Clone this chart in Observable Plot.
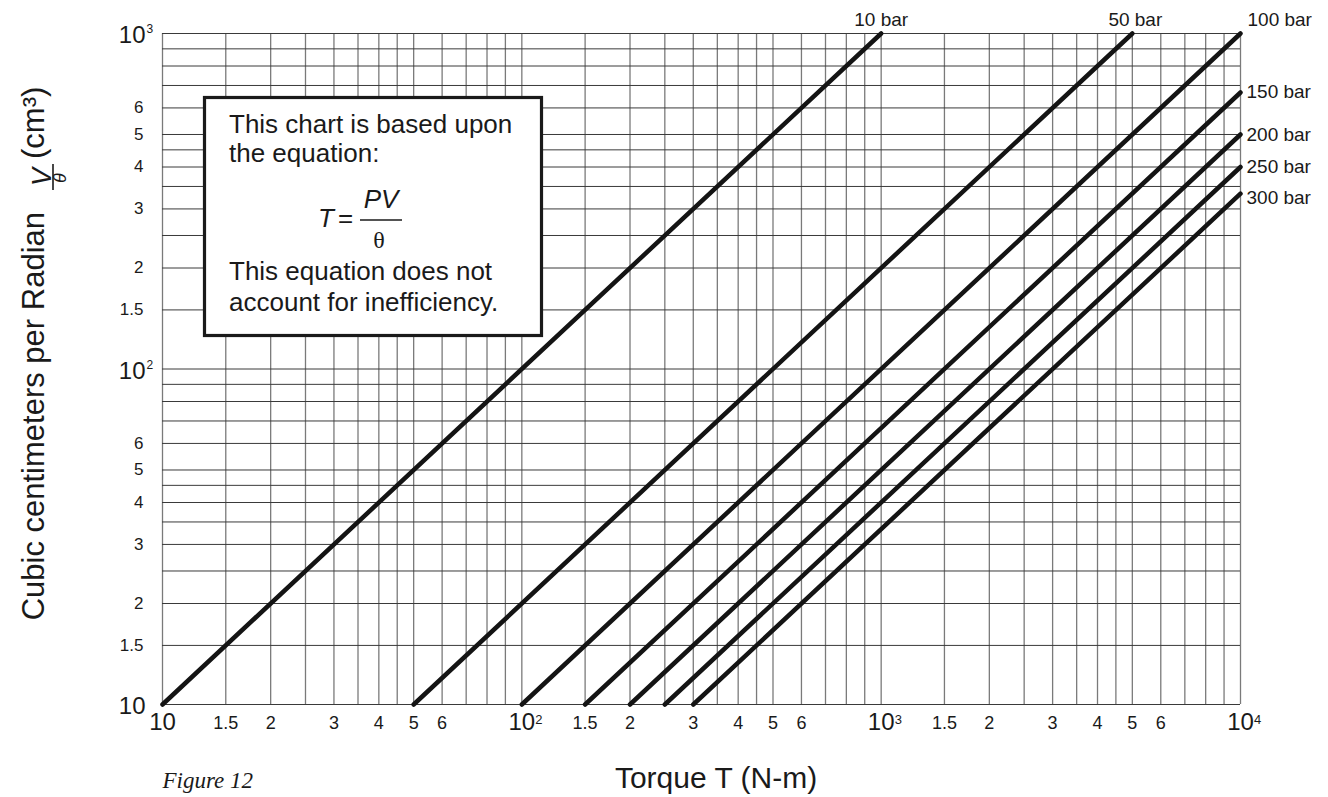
<!DOCTYPE html>
<html>
<head>
<meta charset="utf-8">
<script src="https://cdn.jsdelivr.net/npm/d3@7"></script>
<script src="https://cdn.jsdelivr.net/npm/@observablehq/plot@0.6"></script>
<style>
  html, body { margin: 0; padding: 0; background: #fff; }
</style>
</head>
<body>
<div id="chart"></div>
<script>
// ---------- data ----------
const pressureLabels = ["10 bar", "50 bar", "100 bar", "150 bar", "200 bar", "250 bar", "300 bar"];
const torqueStart = [10, 50, 100, 150, 200, 250, 300];
const volumeStart = [10, 10, 10, 10, 10, 10, 10];
const torqueEnd = [1000, 5000, 10000, 10000, 10000, 10000, 10000];
const volumeEnd = [1000, 1000, 1000, 667, 500, 400, 333];

// grid lines
const gridMantissas = [1, 1.5, 2, 2.5, 3, 3.5, 4, 4.5, 5, 6, 7, 8, 9];
const xDecades = [10, 100, 1000];
const yDecades = [10, 100];
const xGrid = xDecades.flatMap(d => gridMantissas.map(m => m * d)).concat([10000]);
const yGrid = yDecades.flatMap(d => gridMantissas.map(m => m * d)).concat([1000]);

// tick labels
const xTickValues = [15, 20, 30, 40, 50, 60, 150, 200, 300, 400, 500, 600, 1500, 2000, 3000, 4000, 5000, 6000];
const xTickLabels = ["1.5", "2", "3", "4", "5", "6", "1.5", "2", "3", "4", "5", "6", "1.5", "2", "3", "4", "5", "6"];
const xDecadeValues = [10, 100, 1000, 10000];
const xDecadeExponents = ["", "2", "3", "4"];
const yTickValues = [15, 20, 30, 40, 50, 60, 150, 200, 300, 400, 500, 600];
const yTickLabels = ["1.5", "2", "3", "4", "5", "6", "1.5", "2", "3", "4", "5", "6"];
const yDecadeValues = [10, 100, 1000];
const yDecadeExponents = ["", "2", "3"];

// ---------- styles ----------
const FONT = "'Liberation Sans', Arial, Helvetica, sans-serif";
const SERIF = "'Liberation Serif', 'Times New Roman', serif";
const labelStyle = [
  {textAnchor: "middle", dx: 0, dy: -14},
  {textAnchor: "middle", dx: 3, dy: -14},
  {textAnchor: "start", dx: 7, dy: -14},
  {textAnchor: "start", dx: 6, dy: -1},
  {textAnchor: "start", dx: 6, dy: 0},
  {textAnchor: "start", dx: 6, dy: 0},
  {textAnchor: "start", dx: 6, dy: 4}
];

function annotations() {
  const g = d3.create("svg:g").attr("font-family", FONT).attr("fill", "#1a1a1a")
    .attr("text-anchor", "start");
  // y-axis title with fraction V/θ
  g.append("text").attr("transform", "translate(43.5,212) rotate(-90)")
    .attr("text-anchor", "end").attr("font-size", 31).text("Cubic centimeters per Radian");
  g.append("text").attr("transform", "translate(50.5,177) rotate(-90)")
    .attr("text-anchor", "middle").attr("font-size", 27).attr("font-style", "italic").text("V");
  g.append("line").attr("x1", 53).attr("x2", 53).attr("y1", 164).attr("y2", 190)
    .attr("stroke", "#1a1a1a").attr("stroke-width", 1.6);
  g.append("text").attr("transform", "translate(66,178) rotate(-90)")
    .attr("text-anchor", "middle").attr("font-size", 18).attr("font-style", "italic").text("θ");
  g.append("text").attr("transform", "translate(43.5,159) rotate(-90)")
    .attr("text-anchor", "start").attr("font-size", 31).text("(cm³)");

  // note box
  g.append("rect").attr("x", 204.5).attr("y", 97.5).attr("width", 337).attr("height", 238)
    .attr("fill", "#fff").attr("stroke", "#1a1a1a").attr("stroke-width", 3.2);
  const lines = [
    ["This chart is based upon", 132.5],
    ["the equation:", 161.5],
    ["This equation does not", 280],
    ["account for inefficiency.", 310.5]
  ];
  for (const [t, y] of lines) {
    g.append("text").attr("x", 229).attr("y", y).attr("text-anchor", "start")
      .attr("font-size", 26).text(t);
  }
  g.append("text").attr("x", 318).attr("y", 227).attr("text-anchor", "start")
    .attr("font-size", 26).attr("font-style", "italic").text("T");
  g.append("text").attr("x", 338).attr("y", 227).attr("text-anchor", "start")
    .attr("font-size", 26).text("=");
  g.append("text").attr("x", 381).attr("y", 208).attr("text-anchor", "middle")
    .attr("font-size", 26).attr("font-style", "italic").text("PV");
  g.append("line").attr("x1", 360).attr("x2", 402).attr("y1", 220).attr("y2", 220)
    .attr("stroke", "#1a1a1a").attr("stroke-width", 1.4);
  g.append("text").attr("x", 379).attr("y", 248).attr("text-anchor", "middle")
    .attr("font-family", SERIF).attr("font-size", 24).text("θ");
  return g.node();
}

const idx = d3.range(pressureLabels.length);

const chart = Plot.plot({
  width: 1328,
  height: 797,
  marginLeft: 162,
  marginRight: 88,
  marginTop: 33,
  marginBottom: 93,
  x: {type: "log", domain: [10, 10000], axis: null},
  y: {type: "log", domain: [10, 1000], axis: null},
  style: {fontFamily: FONT, background: "#fff", color: "#1a1a1a"},
  marks: [
    // grid
    Plot.ruleX(xGrid, {x: d => d, stroke: "#7a7a7a", strokeWidth: 1.3}),
    Plot.ruleY(yGrid, {y: d => d, stroke: "#3a3a3a", strokeWidth: 1}),
    // pressure lines
    Plot.link(idx, {
      x1: i => torqueStart[i], y1: i => volumeStart[i],
      x2: i => torqueEnd[i], y2: i => volumeEnd[i],
      stroke: "#141414", strokeWidth: 4.5, strokeLinecap: "round"
    }),
    // pressure labels
    ...idx.map(i => Plot.text([i], {
      x: j => torqueEnd[j], y: j => volumeEnd[j], text: j => pressureLabels[j],
      fontSize: 19, fill: "#1a1a1a", ...labelStyle[i]
    })),
    // x tick labels
    Plot.text(xTickValues, {x: d => d, text: (d, i) => xTickLabels[i], frameAnchor: "bottom",
      dy: 24, fontSize: 18, fill: "#1a1a1a"}),
    Plot.text(xDecadeValues, {x: d => d, text: () => "10", frameAnchor: "bottom",
      dy: 25.5, fontSize: 24, fill: "#1a1a1a"}),
    Plot.text(xDecadeValues, {x: d => d, text: (d, i) => xDecadeExponents[i], frameAnchor: "bottom",
      textAnchor: "start", dx: 13.5, dy: 19, fontSize: 13, fill: "#1a1a1a"}),
    // y tick labels
    Plot.text(yTickValues, {y: d => d, text: (d, i) => yTickLabels[i], frameAnchor: "left",
      textAnchor: "end", dx: -19, fontSize: 17, fill: "#1a1a1a"}),
    Plot.text(yDecadeValues, {y: d => d, text: () => "10", frameAnchor: "left",
      textAnchor: "end", dx: -17, dy: 2, fontSize: 24, fill: "#1a1a1a"}),
    Plot.text(yDecadeValues, {y: d => d, text: (d, i) => yDecadeExponents[i], frameAnchor: "left",
      textAnchor: "start", dx: -16, dy: -4, fontSize: 12, fill: "#1a1a1a"}),
    // x-axis title and caption
    Plot.text(["Torque T (N-m)"], {text: d => d, frameAnchor: "bottom", lineAnchor: "bottom",
      dx: 14.5, dy: 83, fontSize: 30, fill: "#1a1a1a"}),
    Plot.text(["Figure 12"], {text: d => d, frameAnchor: "bottom-left", lineAnchor: "bottom",
      textAnchor: "start", dy: 83, fontSize: 23, fontStyle: "italic", fontFamily: SERIF, fill: "#1a1a1a"}),
    // annotations: y title and note box
    annotations
  ]
});

document.getElementById("chart").appendChild(chart);
</script>
</body>
</html>
